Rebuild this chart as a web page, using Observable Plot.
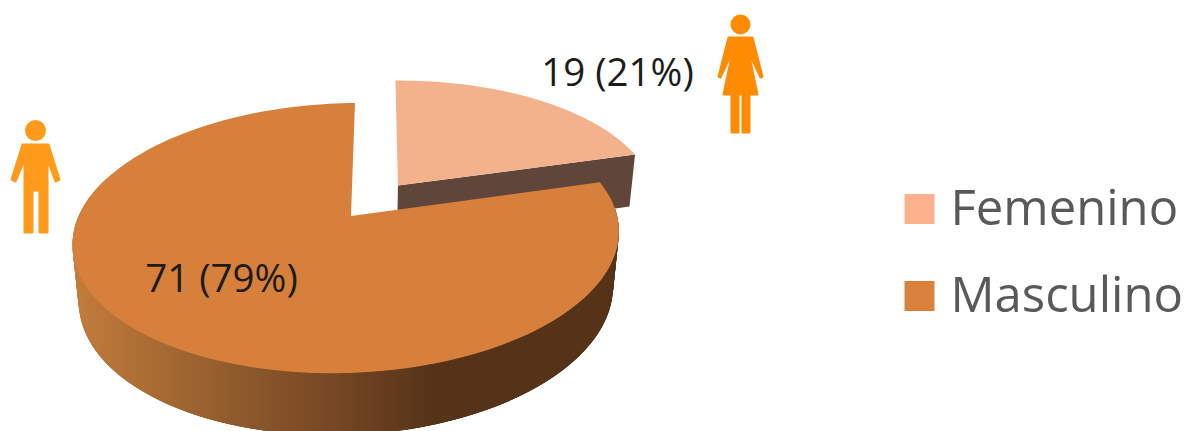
<!DOCTYPE html>
<html>
<head>
<meta charset="utf-8">
<style>html,body{margin:0;padding:0;background:#fff;overflow:hidden}</style>
<script src="https://cdn.jsdelivr.net/npm/d3@7"></script>
<script src="https://cdn.jsdelivr.net/npm/@observablehq/plot@0.6"></script>
</head>
<body>
<script>
// --- data ---
const categories = ["Femenino", "Masculino"];
const counts = [19, 71];
const percents = [21, 79];
const sliceColors = ["#F4B28C", "#D6803B"];
const legendColors = ["#FBB28C", "#D9823D"];

// --- view of the tilted pie ---
const view = {px: 351, py: 216, a: 269.5, b: 131.4, c: 4.6, g: 4, k: 0.163, m: 0.0165, n: 0.022, e: 56.8, explode: 0.295, explodeDir: 37};
const total = d3.sum(counts);
const sweep = counts.map(c => c / total * 360);
function project(u, v, z) {
  const w = 1 + view.k * v + view.m * u + view.n * z;
  return [view.px + (view.a * u + view.c * v) / w, view.py - (view.b * v + view.g * u - view.e * z) / w];
}
const rad = d => d * Math.PI / 180;
function arc(from, to, cx, cy) {
  return d3.range(0, 181).map(i => {
    const t = rad(from + (to - from) * i / 180);
    return [cx + Math.sin(t), cy + Math.cos(t)];
  });
}
const ox = view.explode * Math.sin(rad(view.explodeDir)), oy = view.explode * Math.cos(rad(view.explodeDir));
const femArc = arc(0, sweep[0], ox, oy);
const mascArc = arc(sweep[0], 360, 0, 0);

function fan(points, cu, cv) {
  const [x1, y1] = project(cu, cv, 0);
  return points.map(([u, v]) => { const [x2, y2] = project(u, v, 0); return {x1, y1, x2, y2}; });
}
// each rim facet is its own overlapping quad so the outline stays tangent at the silhouette without seams
function wall(points, overlap = 1) {
  return points.slice(0, points.length - overlap).flatMap((p, i) => [p, points[i + overlap]].map(([u, v]) => {
    const [x1, y1] = project(u, v, 0), [x2, y2] = project(u, v, 1);
    return {x1, y1, x2, y2, facet: i};
  }));
}
const femEnd = femArc[femArc.length - 1];
const femCut = wall([[ox, oy], femEnd]);
const frontRim = mascArc.filter(([u, v]) => v < 0.35); // only the part of the rim that faces the viewer

const femaleShape = {draw(c) {
  c.moveTo(9, 0); c.arc(0, 0, 9, 0, 2 * Math.PI); c.closePath();
  const p = [[-12,13],[12,13],[22,52],[20,53],[8,27],[17,70],[9,70],[9,108],[2,108],[2,70],[-2,70],[-2,108],[-9,108],[-9,70],[-17,70],[-8,27],[-20,53],[-22,52]];
  p.forEach(([x, y], i) => i ? c.lineTo(x, y) : c.moveTo(x, y)); c.closePath();
}};
const maleShape = {draw(c) {
  c.moveTo(9.5, 0); c.arc(0, 0, 9.5, 0, 2 * Math.PI); c.closePath();
  const p = [[-13,14],[13,14],[24,49],[20,51],[12,29],[12,102],[4,102],[4,60],[-3,60],[-3,102],[-11,102],[-11,29],[-20,51],[-24,49]];
  p.forEach(([x, y], i) => i ? c.lineTo(x, y) : c.moveTo(x, y)); c.closePath();
}};

const gradient = () => {
  const ns = "http://www.w3.org/2000/svg";
  const defs = document.createElementNS(ns, "defs");
  defs.innerHTML = `<linearGradient id="side" gradientUnits="userSpaceOnUse" x1="75" x2="620" y1="0" y2="0">
    <stop offset="0" stop-color="#C27C3B"/><stop offset="0.3" stop-color="#8E5A2B"/>
    <stop offset="0.45" stop-color="#7A4A25"/><stop offset="0.66" stop-color="#553318"/><stop offset="1" stop-color="#553318"/>
  </linearGradient>`;
  return defs;
};

const legendRows = categories.map((name, i) => ({name, color: legendColors[i], y: 208.5 + i * 87}));

const chart = Plot.plot({
  width: 1193, height: 431, margin: 0,
  x: {type: "identity", axis: null}, y: {type: "identity", axis: null},
  style: {background: "#fff", fontFamily: "'Open Sans', sans-serif"},
  marks: [
    gradient,
    // exploded slice: cut wall then top
    Plot.area(femCut, {x1: "x1", y1: "y1", x2: "x2", y2: "y2", z: "facet", fill: "#604638"}),
    Plot.area(fan(femArc, ox, oy), {x1: "x1", y1: "y1", x2: "x2", y2: "y2", fill: sliceColors[0]}),
    // large slice: rim then top
    Plot.area(wall(frontRim, 4), {x1: "x1", y1: "y1", x2: "x2", y2: "y2", z: "facet", fill: "url(#side)"}),
    Plot.area(fan(mascArc, 0, 0), {x1: "x1", y1: "y1", x2: "x2", y2: "y2", fill: sliceColors[1]}),
    // value labels
    Plot.text([`${counts[0]} (${percents[0]}%)`], {x: 617, y: 73, text: d => d, fontSize: 38.5, fill: "#1c1c1c"}),
    Plot.text([`${counts[1]} (${percents[1]}%)`], {x: 221, y: 279.5, text: d => d, fontSize: 38.5, fill: "#1c1c1c"}),
    // pictograms
    Plot.dot([0], {x: 740, y: 24, r: 1, symbol: femaleShape, fill: "#FF8C00", stroke: "#FF8C00", strokeWidth: 2, strokeLinejoin: "round"}),
    Plot.dot([0], {x: 35, y: 130, r: 1, symbol: maleShape, fill: "#FF9A1A", stroke: "#FF9A1A", strokeWidth: 2, strokeLinejoin: "round"}),
    // legend
    Plot.dot(legendRows, {x: 919, y: "y", r: 16.9, symbol: "square", fill: "color"}),
    Plot.text(legendRows, {x: 950, y: "y", text: "name", textAnchor: "start", fontSize: 49, fill: "#595959"})
  ]
});
document.body.appendChild(chart);
</script>
</body>
</html>
